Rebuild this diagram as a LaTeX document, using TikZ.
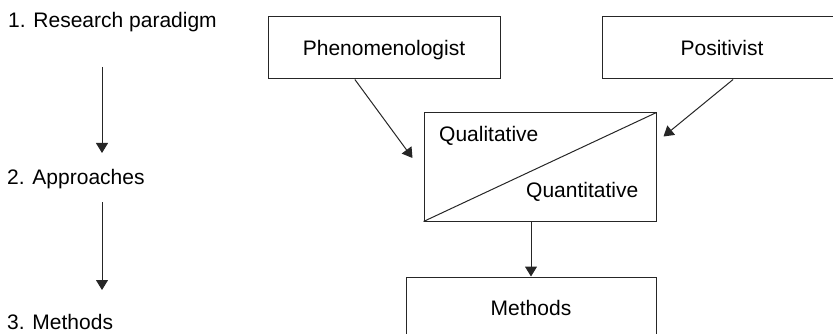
\documentclass[tikz,border=0pt]{standalone}
\usepackage{fontspec}
\setmainfont{Liberation Sans}
\usetikzlibrary{arrows.meta,calc}
\begin{document}
\begin{tikzpicture}[x=1pt,y=-1pt,
  every node/.style={font=\fontsize{21}{25}\selectfont, inner sep=0pt},
  box/.style={draw=black!85, line width=1pt, text height=15pt, text depth=0pt},
  link/.style={draw=black!85, line width=1pt, -{Triangle[length=10pt,width=12pt]}},
  steplabel/.style={anchor=base west}]
\useasboundingbox (0,0) rectangle (833,334);

% left column: the three stages
\node[steplabel] (l1) at (8,28) {1. Research paradigm};
\node[steplabel] (l2) at (7,185) {2. Approaches};
\node[steplabel] (l3) at (7,329) {3. Methods};
\coordinate (a1s) at (102,67);
\coordinate (a1e) at (102,153);
\coordinate (a2s) at (102,202);
\coordinate (a2e) at (102,290);
\draw[link] (a1s) -- (a1e);
\draw[link] (a2s) -- (a2e);

% paradigms
\node[box, minimum width=232pt, minimum height=62pt] (phen) at (384,48) {Phenomenologist};
\node[box, minimum width=240pt, minimum height=62pt] (pos) at (722,48) {Positivist};

% approaches box split by a diagonal
\node[draw=black!85, line width=1pt, minimum width=232pt, minimum height=108pt] (mid) at (540,167) {};
\draw[black!85, line width=1pt] (mid.south west) -- (mid.north east);
\node[anchor=base west] (qual) at (439,142) {Qualitative};
\node[anchor=base west] (quan) at (526,197) {Quantitative};

% methods
\node[box, minimum width=250pt, minimum height=61pt] (meth) at (531,307.5) {Methods};

% connectors
\coordinate (phenin) at ([shift={(-11,-9)}]mid.west);
\coordinate (posin) at ([shift={(7,24)}]mid.north east);
\draw[link] ($(phen.south west)!0.375!(phen.south east)$) -- (phenin);
\draw[link] ($(pos.south west)!0.546!(pos.south east)$) -- (posin);
\draw[link] (mid.south -| meth.north) -- (meth.north);
\end{tikzpicture}
\end{document}
